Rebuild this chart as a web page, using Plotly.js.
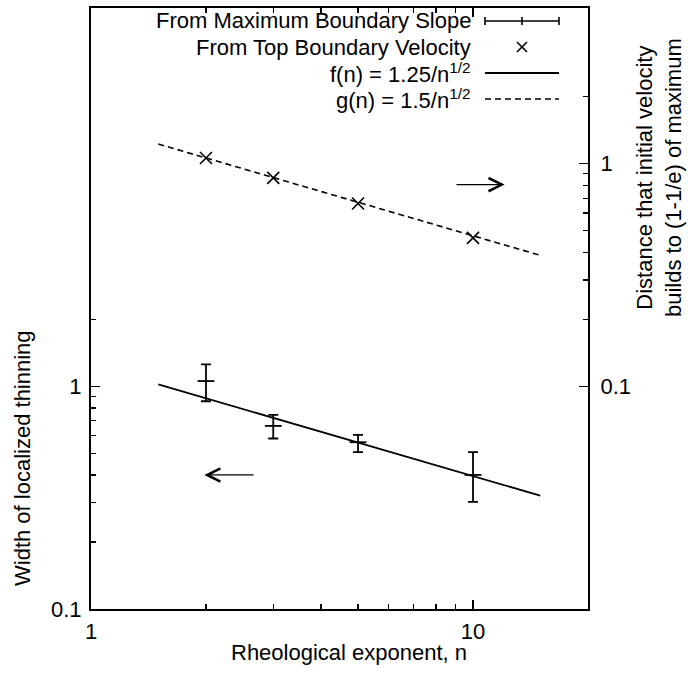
<!DOCTYPE html>
<html>
<head>
<meta charset="utf-8">
<script src="https://cdn.plot.ly/plotly-3.0.1.min.js"></script>
<style>html,body{margin:0;padding:0;background:#fff;}#chart{width:688px;height:680px;}</style>
</head>
<body>
<div id="chart"></div>
<script>
// ---- data ----
const nValues = [2, 3, 5, 10];
const slopeWidth = [1.056, 0.664, 0.561, 0.400];
const slopeHigh  = [1.255, 0.744, 0.605, 0.506];
const slopeLow   = [0.857, 0.583, 0.506, 0.303];
const velocityDistance = [1.06, 0.863, 0.662, 0.464];
const fitN  = [1.5, 15];
const fLine = [1.0206, 0.3227];   // f(n) = 1.25/n^(1/2)
const gLine = [1.2247, 0.3873];   // g(n) = 1.5/n^(1/2)
const xTicks = [1, 10];
const xMinor = [2, 3, 4, 5, 6, 7, 8, 9];
const yTicks = [0.1, 1];
const yMinor = [0.2, 0.3, 0.4, 0.5, 0.6, 0.7, 0.8, 0.9, 2];
const legendLabels = ['From Maximum Boundary Slope', 'From Top Boundary Velocity',
  'f(n) = 1.25/n<sup>1/2</sup>', 'g(n) = 1.5/n<sup>1/2</sup>'];
const xTitle = 'Rheological exponent, n';
const yTitle = 'Width of localized thinning';
const y2Title = 'Distance that initial velocity<br>builds to (1-1/e) of maximum';

const errPlus = slopeHigh.map((h, i) => h - slopeWidth[i]);
const errMinus = slopeWidth.map((v, i) => v - slopeLow[i]);

const FONT = 'Liberation Sans, Arial, sans-serif';
const FS = 22;
const L = 91, R = 588, T = 8, B = 609;
const px = x => (x - L) / (R - L);
const py = y => (B - y) / (B - T);

const traces = [
  {x: fitN, y: fLine, mode: 'lines', line: {color: '#000', width: 1.8}, yaxis: 'y', hoverinfo: 'skip'},
  {x: fitN, y: gLine, mode: 'lines', line: {color: '#000', width: 1.6, dash: '6px,4px'}, yaxis: 'y2', hoverinfo: 'skip'},
  {x: nValues, y: slopeWidth, mode: 'markers', yaxis: 'y',
   marker: {symbol: 'line-ew', size: 12, color: '#000', line: {color: '#000', width: 1.8}},
   error_y: {type: 'data', symmetric: false, array: errPlus, arrayminus: errMinus, color: '#000', thickness: 1.8, width: 5}},
  {x: nValues, y: velocityDistance, mode: 'markers', yaxis: 'y2',
   marker: {symbol: 'x-thin', size: 12, color: '#000', line: {color: '#000', width: 1.6}}}
];

const axisCommon = {
  type: 'log', showgrid: false, zeroline: false, showline: true, linecolor: '#000', linewidth: 2,
  ticks: 'inside', ticklen: 9, tickwidth: 1.2, tickcolor: '#000',
  tickfont: {family: FONT, size: FS, color: '#000'}
};

const legendRows = [21, 47, 73, 99];
const textRight = 473, sx0 = 485, sx1 = 559, sxc = 522;

const annotations = [];
legendLabels.forEach((t, i) => annotations.push({
  xref: 'paper', yref: 'paper', x: px(textRight), y: py(legendRows[i]), xanchor: 'right', yanchor: 'middle',
  text: t, showarrow: false, font: {family: FONT, size: FS, color: '#000'}
}));
annotations.push({xref: 'paper', yref: 'paper', x: px(349), y: py(652), xanchor: 'center', yanchor: 'middle',
  text: xTitle, showarrow: false, font: {family: FONT, size: FS, color: '#000'}});
annotations.push({xref: 'paper', yref: 'paper', x: px(22), y: py(458), xanchor: 'center', yanchor: 'middle',
  text: yTitle, textangle: -90, showarrow: false, font: {family: FONT, size: FS, color: '#000'}});
annotations.push({xref: 'paper', yref: 'paper', x: px(659), y: py(178), xanchor: 'center', yanchor: 'middle',
  text: y2Title, textangle: -90, showarrow: false, font: {family: FONT, size: FS, color: '#000'}});
// direction arrows
annotations.push({xref: 'x', yref: 'y', axref: 'x', ayref: 'y', x: Math.log10(1.98), y: Math.log10(0.40),
  ax: Math.log10(2.69), ay: Math.log10(0.40), showarrow: true, arrowhead: 5, arrowsize: 2, arrowwidth: 1.3, arrowcolor: '#000', text: ''});
annotations.push({xref: 'x', yref: 'y2', axref: 'x', ayref: 'y2', x: Math.log10(12.1), y: Math.log10(0.805),
  ax: Math.log10(8.97), ay: Math.log10(0.805), showarrow: true, arrowhead: 5, arrowsize: 2, arrowwidth: 1.3, arrowcolor: '#000', text: ''});

const ln = {color: '#000', width: 1.6};
const shapes = [];
const r0 = py(legendRows[0]), h4 = 4 / (B - T);
shapes.push({type: 'line', xref: 'paper', yref: 'paper', x0: px(sx0), x1: px(sx1), y0: r0, y1: r0, line: ln});
shapes.push({type: 'line', xref: 'paper', yref: 'paper', x0: px(sx0), x1: px(sx0), y0: r0 - h4, y1: r0 + h4, line: ln});
shapes.push({type: 'line', xref: 'paper', yref: 'paper', x0: px(sx1), x1: px(sx1), y0: r0 - h4, y1: r0 + h4, line: ln});
shapes.push({type: 'line', xref: 'paper', yref: 'paper', x0: px(sxc), x1: px(sxc), y0: r0 - h4, y1: r0 + h4, line: ln});
const r1 = py(legendRows[1]), hx = 5 / (R - L), hy = 5 / (B - T);
shapes.push({type: 'line', xref: 'paper', yref: 'paper', x0: px(sxc) - hx, x1: px(sxc) + hx, y0: r1 - hy, y1: r1 + hy, line: ln});
shapes.push({type: 'line', xref: 'paper', yref: 'paper', x0: px(sxc) - hx, x1: px(sxc) + hx, y0: r1 + hy, y1: r1 - hy, line: ln});
shapes.push({type: 'line', xref: 'paper', yref: 'paper', x0: px(sx0), x1: px(sx1), y0: py(legendRows[2]), y1: py(legendRows[2]), line: {color: '#000', width: 1.8}});
shapes.push({type: 'line', xref: 'paper', yref: 'paper', x0: px(sx0), x1: px(sx1), y0: py(legendRows[3]), y1: py(legendRows[3]), line: {color: '#000', width: 1.6, dash: '6px,4px'}});

const layout = {
  width: 688, height: 680,
  margin: {l: L, r: 688 - R, t: T, b: 680 - B},
  paper_bgcolor: '#fff', plot_bgcolor: '#fff',
  showlegend: false,
  font: {family: FONT, size: FS, color: '#000'},
  xaxis: Object.assign({}, axisCommon, {range: [0, Math.log10(20)], tickmode: 'array', tickvals: xTicks, ticktext: ['1', '10'],
    mirror: 'ticks', ticklabelstandoff: 2, minor: {tickmode: 'array', tickvals: xMinor, ticks: 'inside', ticklen: 5, tickcolor: '#000', tickwidth: 1.2}}),
  yaxis: Object.assign({}, axisCommon, {range: [-1, Math.log10(50)], tickmode: 'array', tickvals: yTicks, ticktext: ['0.1', '1'],
    ticklabelstandoff: 3, minor: {tickmode: 'array', tickvals: yMinor, ticks: 'inside', ticklen: 5, tickcolor: '#000', tickwidth: 1.2}}),
  yaxis2: Object.assign({}, axisCommon, {overlaying: 'y', side: 'right', range: [-2, Math.log10(5)], tickmode: 'array', tickvals: yTicks, ticktext: ['0.1', '1'],
    ticklabelstandoff: 6, minor: {tickmode: 'array', tickvals: yMinor, ticks: 'inside', ticklen: 5, tickcolor: '#000', tickwidth: 1.2}}),
  annotations: annotations,
  shapes: shapes
};

Plotly.newPlot('chart', traces, layout, {staticPlot: true, displayModeBar: false});
</script>
</body>
</html>
